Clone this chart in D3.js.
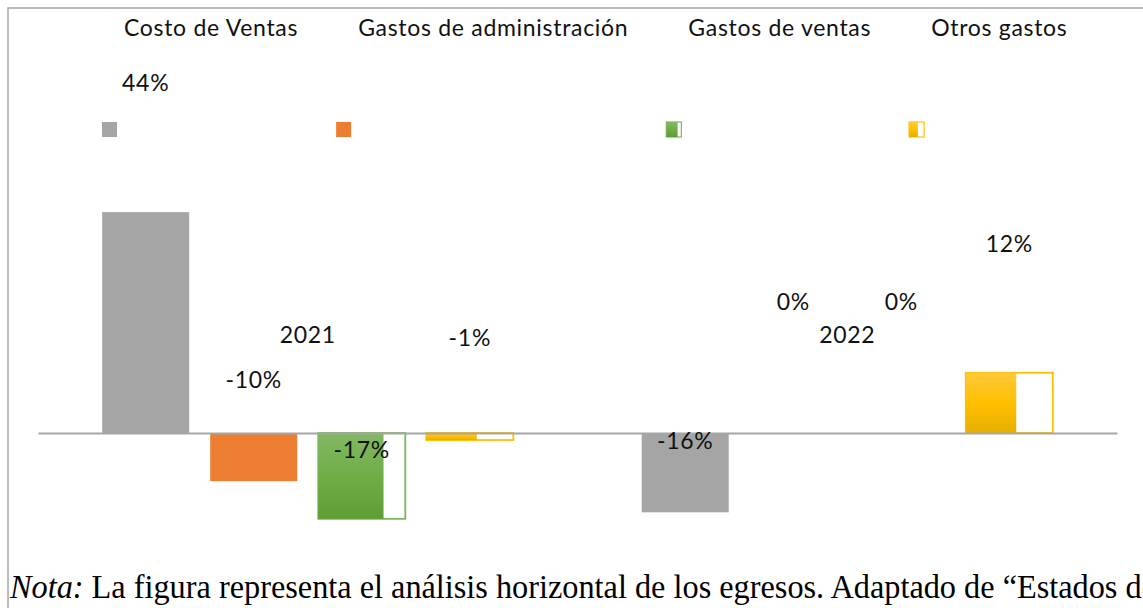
<!DOCTYPE html>
<html>
<head>
<meta charset="utf-8">
<script src="https://cdn.jsdelivr.net/npm/d3@7"></script>
<style>
  html, body { margin: 0; padding: 0; background: #fff; overflow: hidden; }
  .lbl { font-family: Lato, "Open Sans", sans-serif; font-size: 23px; fill: #111; letter-spacing: 0.7px; }
  .nota { font-family: "Liberation Serif", "Times New Roman", serif; font-size: 33px; fill: #000; }
</style>
</head>
<body>
<svg id="chart" width="1143" height="608"></svg>
<script>
// data
var years = ["2021", "2022"];
var series = ["Costo de Ventas", "Gastos de administración", "Gastos de ventas", "Otros gastos"];
var values2021 = [0.44, -0.096, -0.171, -0.014];
var values2022 = [-0.158, 0, 0, 0.12];
var labels2021 = ["44%", "-10%", "-17%", "-1%"];
var labels2022 = ["-16%", "0%", "0%", "12%"];
// where excel left the data labels (in value units)
var labelAt2021 = [0.697, 0.105, -0.034, 0.189];
var labelAt2022 = [-0.016, 0.261, 0.261, 0.377];
var yearLabelAt = 0.195;

var colors = ["#a5a5a5", "#ed7d31", "#70ad47", "#ffc000"];

var svg = d3.select("#chart");

// gradients
var defs = svg.append("defs");
var gGreen = defs.append("linearGradient").attr("id", "gGreen")
	.attr("x1", 0).attr("y1", 0).attr("x2", 0).attr("y2", 1);
gGreen.append("stop").attr("offset", "0%").attr("stop-color", "#81b964");
gGreen.append("stop").attr("offset", "50%").attr("stop-color", "#70ad47");
gGreen.append("stop").attr("offset", "100%").attr("stop-color", "#5f9d35");
var gGold = defs.append("linearGradient").attr("id", "gGold")
	.attr("x1", 0).attr("y1", 0).attr("x2", 0).attr("y2", 1);
gGold.append("stop").attr("offset", "0%").attr("stop-color", "#ffc83c");
gGold.append("stop").attr("offset", "50%").attr("stop-color", "#ffc000");
gGold.append("stop").attr("offset", "100%").attr("stop-color", "#e6b000");

var styles = [
	{ fill: colors[0], stroke: null, frac: 1 },
	{ fill: colors[1], stroke: null, frac: 1 },
	{ fill: "url(#gGreen)", stroke: "#7cb65a", frac: 0.75 },
	{ fill: "url(#gGold)", stroke: "#ffc000", frac: 0.58 }
];

// frame
svg.append("rect")
	.attr("x", 8).attr("y", 8)
	.attr("width", 1300).attr("height", 800)
	.style("fill", "none")
	.style("stroke", "#a6a6a6")
	.style("stroke-width", 1.5);

// scales
var x0 = d3.scaleBand().domain(years).range([38, 1117]);
var x1 = d3.scaleBand().domain(series).range([0, x0.bandwidth()])
	.paddingInner(21 / 108).paddingOuter(0.594);
var y = d3.scaleLinear().domain([-0.2, 0.5]).range([533.4, 182]);

var rows = [];
years.forEach(function(yr, i) {
	var vals = i == 0 ? values2021 : values2022;
	var labs = i == 0 ? labels2021 : labels2022;
	var at = i == 0 ? labelAt2021 : labelAt2022;
	series.forEach(function(s, j) {
		rows.push({ year: yr, series: s, idx: j, value: vals[j], label: labs[j], at: at[j] });
	});
});

var bars = svg.append("g").selectAll("g")
	.data(rows).enter()
	.append("g")
	.attr("transform", function(d) { return "translate(" + (x0(d.year) + x1(d.series)) + ",0)"; });

// outline box (only the two gradient series have one)
bars.filter(function(d) { return styles[d.idx].stroke; })
	.append("rect")
	.attr("x", 0)
	.attr("y", function(d) { return Math.min(y(d.value), y(0)); })
	.attr("width", x1.bandwidth())
	.attr("height", function(d) { return Math.abs(y(d.value) - y(0)); })
	.style("fill", "#fff")
	.style("stroke", function(d) { return styles[d.idx].stroke; })
	.style("stroke-width", 1.8);

bars.append("rect")
	.attr("x", 0)
	.attr("y", function(d) { return Math.min(y(d.value), y(0)); })
	.attr("width", function(d) { return x1.bandwidth() * styles[d.idx].frac; })
	.attr("height", function(d) { return Math.abs(y(d.value) - y(0)); })
	.style("fill", function(d) { return styles[d.idx].fill; });

// zero axis
var axis = svg.append("g")
	.attr("transform", "translate(0," + y(0) + ")")
	.call(d3.axisBottom(x0).tickSize(0).tickSizeOuter(0).tickFormat(""));
axis.select(".domain").style("stroke", "#a6a6a6").style("stroke-width", 2);

// data labels
svg.append("g").selectAll("text")
	.data(rows).enter()
	.append("text")
	.attr("class", "lbl")
	.attr("text-anchor", "middle")
	.attr("x", function(d) { return x0(d.year) + x1(d.series) + x1.bandwidth() / 2; })
	.attr("y", function(d) { return y(d.at); })
	.attr("dy", "0.35em")
	.text(function(d) { return d.label; });

// category labels
svg.append("g").selectAll("text")
	.data(years).enter()
	.append("text")
	.attr("class", "lbl")
	.attr("text-anchor", "middle")
	.attr("x", function(d) { return x0(d) + x0.bandwidth() / 2; })
	.attr("y", y(yearLabelAt))
	.attr("dy", "0.35em")
	.text(function(d) { return d; });

// legend: entries laid out one after the other, symbols dropped below
var legend = svg.append("g");
var lx = 124;
series.forEach(function(s, j) {
	var t = legend.append("text")
		.attr("class", "lbl")
		.attr("x", lx)
		.attr("y", 28)
		.attr("dy", "0.35em")
		.text(s);
	var w = t.node().getComputedTextLength();
	var sx = lx - 22;
	if (styles[j].stroke) {
		legend.append("rect")
			.attr("x", sx).attr("y", 122).attr("width", 15).attr("height", 15)
			.style("fill", "#fff")
			.style("stroke", styles[j].stroke).style("stroke-width", 1.2);
		legend.append("rect")
			.attr("x", sx).attr("y", 122).attr("width", 15 * styles[j].frac).attr("height", 15)
			.style("fill", styles[j].fill);
	} else {
		legend.append("rect")
			.attr("x", sx).attr("y", 122).attr("width", 15).attr("height", 15)
			.style("fill", styles[j].fill);
	}
	lx += w + 60;
});

// caption (runs off the right edge, as in the source page)
var nota = svg.append("text")
	.attr("class", "nota")
	.attr("x", 10)
	.attr("y", 598)
	.attr("lengthAdjust", "spacingAndGlyphs")
	.attr("textLength", 1146);
nota.append("tspan").style("font-style", "italic").text("Nota:");
nota.append("tspan").text(" La figura representa el análisis horizontal de los egresos. Adaptado de “Estados de");
</script>
</body>
</html>
